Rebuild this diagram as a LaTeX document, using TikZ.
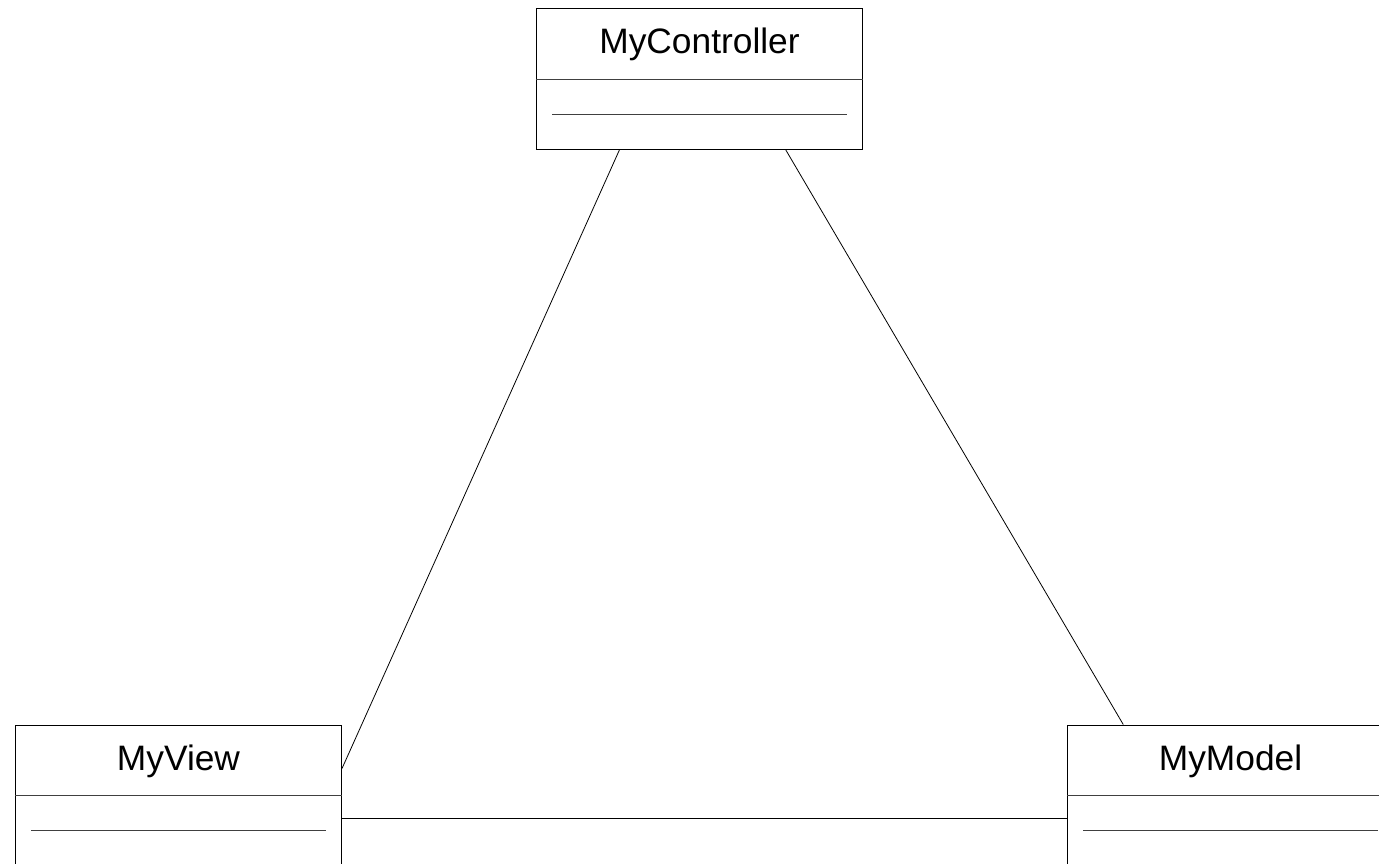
\documentclass[tikz,border=0pt]{standalone}
\usepackage{fontspec}
\setmainfont{Liberation Sans}
\usetikzlibrary{calc}
\begin{document}
\begin{tikzpicture}[x=0.75pt,y=-0.75pt,
  classbox/.style={draw=black, line width=0.75pt, inner sep=0pt, anchor=north west,
    minimum width=244.5pt, minimum height=105.75pt},
  classname/.style={anchor=base, font=\fontsize{26.5}{31}\selectfont},
  sep/.style={draw=black!75, line width=0.75pt},
  assoc/.style={draw=black, line width=0.6pt}]
\useasboundingbox (0,0) rectangle (1379,864);
\clip (0,0) rectangle (1379,864);

% class boxes
\node[classbox] (ctrl) at (536,8) {};
\node[classbox] (view) at (15,724.5) {};
\node[classbox] (model) at (1067,724.5) {};

% compartments and names
\foreach \c/\t in {ctrl/MyController, view/MyView, model/MyModel}{
  \draw[sep] ($(\c.north west)+(0,71)$) -- ($(\c.north east)+(0,71)$);
  \draw[sep] ($(\c.north west)+(16,106)$) -- ($(\c.north east)+(-16,106)$);
  \node[classname] at ($(\c.north)+(0,45.5)$) {\t};
}

% associations
\draw[assoc] ($(ctrl.south west)!0.255!(ctrl.south east)$) -- ($(view.north east)!0.31!(view.south east)$);
\draw[assoc] ($(ctrl.south west)!0.764!(ctrl.south east)$) -- ($(model.north west)!0.172!(model.north east)$);
\draw[assoc] ($(view.north east)!0.66!(view.south east)$) -- ($(model.north west)!0.66!(model.south west)$);
\end{tikzpicture}
\end{document}
